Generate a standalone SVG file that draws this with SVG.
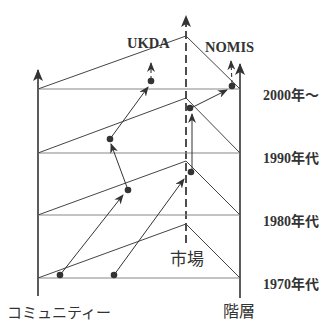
<svg xmlns="http://www.w3.org/2000/svg" width="326" height="322" viewBox="0 0 326 322">
<style>
.ax{stroke:#333;stroke-width:1.6;fill:none}
.hl{stroke:#888;stroke-width:1.2;fill:none}
.sl{stroke:#444;stroke-width:1;fill:none}
.ar{stroke:#333;stroke-width:1;fill:none;marker-end:url(#ah)}
.da{stroke:#333;stroke-width:1.1;fill:none;stroke-dasharray:4 3;marker-end:url(#ah)}
.dl{stroke:#222;stroke-width:1.6;fill:none;stroke-dasharray:8 4}
.dot{fill:#333}
.yr{font-family:"Liberation Serif","Noto Sans CJK JP",serif;font-size:14px;font-weight:bold;fill:#333}
.lb{font-family:"Liberation Serif",serif;font-size:14.5px;font-weight:bold;fill:#333}
.jp{font-family:"Noto Sans CJK JP",sans-serif;fill:#333}
</style>
<defs>
<marker id="ah" markerWidth="10" markerHeight="8" refX="9" refY="4" orient="auto" markerUnits="userSpaceOnUse">
<path d="M0,0 L10,4 L0,8 L3,4 z" fill="#333"/>
</marker>
<marker id="big" markerWidth="12" markerHeight="12" refX="11" refY="5" orient="auto" markerUnits="userSpaceOnUse">
<path d="M0,0 L12,5 L0,10 L3,5 z" fill="#333"/>
</marker>
</defs>
<g id="connectors">
<line class="ax" x1="38" y1="296" x2="38" y2="70" marker-end="url(#big)"/>
<line class="ax" x1="240" y1="298" x2="240" y2="64" marker-end="url(#big)"/>
<line class="dl" x1="186" y1="243" x2="186" y2="16" marker-end="url(#big)"/>
<line class="hl" x1="38" y1="89" x2="240" y2="89"/>
<line class="hl" x1="38" y1="153" x2="240" y2="153"/>
<line class="hl" x1="38" y1="215" x2="240" y2="215"/>
<line class="hl" x1="38" y1="278" x2="240" y2="278"/>
<polyline class="sl" points="38,89 186,36 240,89"/>
<polyline class="sl" points="38,153 186,98 240,153"/>
<polyline class="sl" points="38,215 186,161 240,215"/>
<polyline class="sl" points="38,278 186,224 240,278"/>
<line class="ar" x1="60" y1="275" x2="123" y2="195"/>
<line class="ar" x1="114" y1="275" x2="184" y2="179"/>
<line class="ar" x1="128" y1="190" x2="111" y2="144"/>
<line class="ar" x1="110" y1="139" x2="148" y2="87"/>
<line class="ar" x1="192" y1="171" x2="192" y2="114"/>
<line class="ar" x1="191" y1="108" x2="227" y2="90"/>
<line class="da" x1="151" y1="80" x2="151" y2="63"/>
<line class="da" x1="232" y1="84" x2="231" y2="61"/>
</g>
<g id="dots">
<circle class="dot" cx="60" cy="275" r="3.3"/>
<circle class="dot" cx="114" cy="275" r="3.3"/>
<circle class="dot" cx="128" cy="190" r="3.3"/>
<circle class="dot" cx="110" cy="139" r="3.3"/>
<circle class="dot" cx="151" cy="81" r="3.3"/>
<circle class="dot" cx="191" cy="172" r="3.3"/>
<circle class="dot" cx="190" cy="108" r="3.3"/>
<circle class="dot" cx="232" cy="86" r="3.3"/>
</g>
<g id="labels">
<text class="lb" x="127" y="48">UKDA</text>
<text class="lb" x="205" y="52">NOMIS</text>
<text class="yr" x="263" y="100">2000年～</text>
<text class="yr" x="263" y="163">1990年代</text>
<text class="yr" x="263" y="226">1980年代</text>
<text class="yr" x="263" y="289">1970年代</text>
<text class="jp" x="170" y="265" font-size="17">市場</text>
<text class="jp" x="7" y="318" font-size="15">コミュニティー</text>
<text class="jp" x="223" y="317" font-size="16">階層</text>
</g>
</svg>
